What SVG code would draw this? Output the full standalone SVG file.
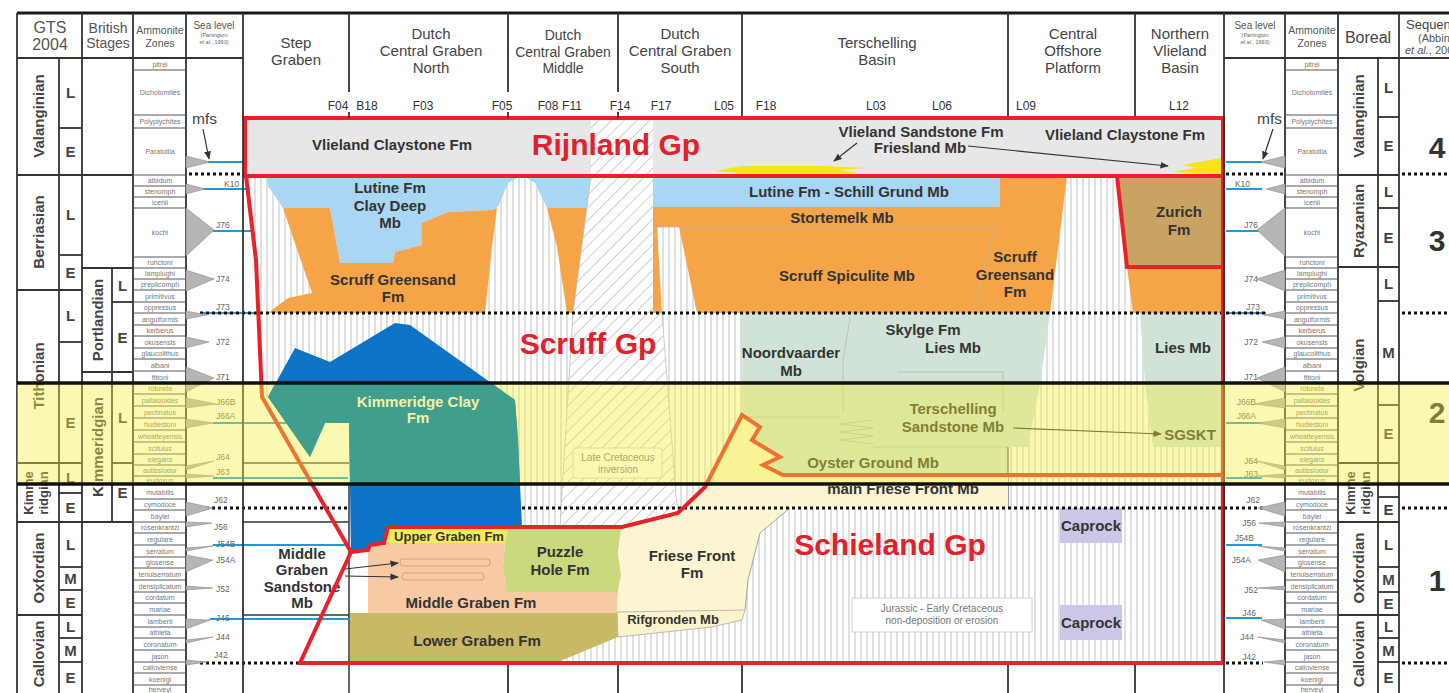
<svg xmlns="http://www.w3.org/2000/svg" width="1449" height="693" viewBox="0 0 1449 693">
<defs>
<style>
text { font-family: "Liberation Sans", Arial, sans-serif; }
.hd { font-size: 15px; fill: #444; text-anchor: middle; }
.hs { font-size: 5.5px; fill: #666; text-anchor: middle; }
.well { font-size: 12px; fill: #333; text-anchor: middle; }
.lb { font-size: 15px; font-weight: bold; fill: #333; text-anchor: middle; }
.lbs { font-size: 13px; font-weight: bold; fill: #333; text-anchor: middle; }
.gp { font-size: 30px; font-weight: bold; fill: #e3202b; text-anchor: middle; }
.st { font-size: 15px; font-weight: bold; fill: #444; text-anchor: middle; }
.st2 { font-size: 13px; font-weight: bold; fill: #444; text-anchor: middle; }
.zn { font-size: 7px; fill: #777; text-anchor: middle; }
.sl { font-size: 8.5px; fill: #666; }
.slr { font-size: 8.5px; fill: #666; text-anchor: end; }
.note { font-size: 10px; fill: #777; text-anchor: middle; }
.seq { font-size: 30px; font-weight: bold; fill: #333; text-anchor: middle; }
.grid { stroke: #333; stroke-width: 1.8; fill: none; }
.gthin { stroke: #555; stroke-width: 1; fill: none; }
.red { stroke: #e8212b; stroke-width: 4; fill: none; stroke-linejoin: miter; }
.dot { stroke: #111; stroke-width: 3; stroke-dasharray: 3 3; fill: none; }
.sea { stroke: #1e9ad6; stroke-width: 2.2; fill: none; }
.tri { fill: #b5b5b5; stroke: #8a8a8a; stroke-width: 0.6; }
.faint { stroke: #b9b9aa; stroke-width: 0.8; fill: none; }
.band { stroke: #111; stroke-width: 3.5; }
</style>
<pattern id="vh" width="6" height="10" patternUnits="userSpaceOnUse">
  <rect width="6" height="10" fill="#fff"/>
  <line x1="3" y1="0" x2="3" y2="10" stroke="#c2c2c2" stroke-width="1"/>
</pattern>
<pattern id="dh" width="9" height="9" patternUnits="userSpaceOnUse" patternTransform="rotate(-45)">
  <rect width="9" height="9" fill="#fff"/>
  <line x1="0" y1="4.5" x2="9" y2="4.5" stroke="#cdcdcd" stroke-width="1"/>
</pattern>
<marker id="ah" viewBox="0 0 10 10" refX="9" refY="5" markerWidth="7" markerHeight="7" orient="auto">
  <path d="M0,1 L10,5 L0,9 z" fill="#333"/>
</marker>
<clipPath id="bandclip"><rect x="0" y="383" width="1449" height="100"/></clipPath>
</defs>

<rect width="1449" height="693" fill="#fff"/>

<!-- ============ main chart background (non-deposition hatch) ============ -->
<g id="hiatus">
  <polygon points="246,176 1223,176 1223,663 300,663 351,552 262,397 256,260" fill="url(#vh)"/>
  <polygon points="262,397 268,397 310,457 325,423 349,423 351,552" fill="#fff"/>
  <polygon points="300,663 351,552 368,550 368,613 350,613 350,663" fill="#fff"/>
</g>

<!-- step graben reference lines -->
<g id="step-graben-lines">
  <line x1="243" y1="463" x2="349" y2="463" stroke="#444" stroke-width="1.5"/>
  <line x1="243" y1="522" x2="349" y2="522" stroke="#333" stroke-width="1.5"/>
  <line x1="243" y1="615" x2="349" y2="615" stroke="#333" stroke-width="1.5"/>
  <line x1="349" y1="484" x2="349" y2="693" stroke="#333" stroke-width="1.5"/>
</g>

<!-- ============ Scruff Group units ============ -->
<g id="scruff">
  <polygon id="lutine-clay-deep" points="266,178 517,178 508,183 498,207 492,210 448,212 422,223 422,245 395,252 393,263 340,263 330,208 283,208 268,186" fill="#a9d6f2"/>
  <polygon points="527,178 591,178 589,208 547,208 535,183" fill="#a9d6f2"/>
  <polygon id="scruff-greensand-w" points="283,208 330,208 340,263 393,263 395,252 422,245 422,223 448,212 492,210 497,208 492,247 485,313 268,313 288,298 312,293" fill="#f5a548"/>
  <polygon points="547,208 589,208 573,313 567,313 557,247" fill="#f5a548"/>
  <polygon id="inversion" points="591,176 653,176 662,313 676,495 678,513 622,527 560,527 562,493 573,313" fill="url(#dh)" stroke="#bdbdbd" stroke-width="0.8"/>
  <polygon id="scruff-spiculite" points="653,176 1067,176 1050,313 653,313" fill="#f5a548"/>
  <polygon id="schill-grund" points="653,178 1000,178 1000,207 653,207" fill="#a9d6f2"/>
  <polygon points="657,227 679,227 697,313 662,313" fill="url(#vh)"/>
  <polygon id="zurich" points="1117,176 1223,176 1223,267 1127,267" fill="#c9a362"/>
  <polygon points="1127,267 1223,267 1223,313 1133,313" fill="#f5a548"/>
  <polygon id="skylge" points="740,313 1050,313 1040,383 1028,447 1008,447 1008,475 783,475 763,465 780,457 752,440 760,427 742,415" fill="#d0e3d6"/>
  <polygon id="lies-north" points="1140,313 1223,313 1223,447 1153,447 1145,383" fill="#d0e3d6"/>
  <polygon id="kimmeridge-clay" points="295,348 330,362 395,323 410,325 487,380 515,400 518,440 522,527 388,527 384,543 370,545 368,550 351,552 349,423 325,423 310,457 268,397" fill="#0d73c6"/>
  <g class="faint">
    <polyline points="653,227 1000,227"/>
    <polyline points="995,227 985,262 973,313"/>
    <polyline points="850,318 843,360 843,413"/>
    <polyline points="897,372 1003,372 1003,413"/>
    <polyline points="742,417 840,417"/>
    <polyline points="873,420 840,424 873,428 840,432 873,436 840,440 873,444"/>
    <polyline points="873,447 1008,447"/>
    <polyline points="1145,383 1223,383"/>
  </g>
  <line x1="1008" y1="447" x2="1008" y2="508" stroke="#555" stroke-width="1.2"/>
</g>

<!-- ============ Schieland Group units ============ -->
<g id="schieland">
  <polygon id="upper-graben" points="388,529 508,529 505,543 388,543" fill="#f6ea5c"/>
  <polygon id="middle-graben" points="368,545 384,543 505,543 503,567 507,592 618,592 617,613 368,613" fill="#f7caa3"/>
  <polygon id="puzzle-hole" points="508,529 621,529 618,553 621,575 618,592 507,592 503,567 505,543" fill="#ccd87e"/>
  <polygon id="friese-front" points="621,529 678,515 705,489 742,417 760,427 752,440 780,457 763,465 783,475 1008,475 1008,508 790,508 760,533 748,580 745,610 617,612 618,592 621,575 618,553" fill="#fcf5d2"/>
  <polyline points="790,508 760,533 748,580 745,610" fill="none" stroke="#999" stroke-width="0.9"/>
  <polygon id="rifgronden" points="617,612 745,610 742,620 712,627 618,637" fill="#fbf3cc" stroke="#aaa" stroke-width="0.8"/>
  <polygon id="lower-graben" points="350,613 617,613 618,637 558,662 350,662" fill="#c8b967"/>
  <rect x="400" y="559" width="90" height="7" rx="3" fill="#f7caa3" stroke="#c79a78" stroke-width="0.8"/>
  <rect x="402" y="573" width="82" height="7" rx="3" fill="#f7caa3" stroke="#c79a78" stroke-width="0.8"/>
  <rect id="caprock-1" x="1060" y="508" width="62" height="35" fill="#cbc7e8"/>
  <rect id="caprock-2" x="1060" y="605" width="62" height="35" fill="#cbc7e8"/>
  <rect x="852" y="598" width="180" height="34" fill="#fff" stroke="#c8c8c8" stroke-width="0.8"/>
  <rect x="573" y="448" width="89" height="30" rx="2" fill="#fff" stroke="#c8c8c8" stroke-width="0.8"/>
</g>

<!-- ============ Rijnland Group ============ -->
<g id="rijnland">
  <rect x="245" y="118" width="978" height="58" fill="#e7e7e7"/>
  <rect x="591" y="120" width="62" height="54" fill="url(#dh)"/>
  <polygon points="715,171 742,166 825,166 866,168 838,170 858,173 742,173" fill="#f7e31a"/>
  <polygon points="1172,172 1196,168 1182,165 1205,161 1222,158 1222,174" fill="#f7e31a"/>
</g>

<!-- ============ dotted surfaces and sea-level lines ============ -->
<g id="surfaces">
  <line class="sea" x1="208" y1="162" x2="245" y2="162"/>
  <line class="sea" x1="203" y1="189" x2="250" y2="189"/>
  <line class="sea" x1="213" y1="231" x2="254" y2="231"/>
  <line class="sea" x1="200" y1="313" x2="262" y2="313"/>
  <line class="sea" x1="213" y1="423" x2="325" y2="423"/>
  <line class="sea" x1="213" y1="478" x2="348" y2="478"/>
  <line class="sea" x1="213" y1="545" x2="345" y2="545"/>
  <line class="sea" x1="210" y1="619" x2="349" y2="619"/>
  <line class="sea" x1="1226" y1="162" x2="1262" y2="162"/>
  <line class="sea" x1="1226" y1="189" x2="1262" y2="189"/>
  <line class="sea" x1="1226" y1="231" x2="1262" y2="231"/>
  <line class="sea" x1="1226" y1="313" x2="1266" y2="313"/>
  <line class="sea" x1="1226" y1="423" x2="1265" y2="423"/>
  <line class="sea" x1="1226" y1="478" x2="1262" y2="478"/>
  <line class="sea" x1="1226" y1="545" x2="1262" y2="545"/>
  <line class="sea" x1="1226" y1="618" x2="1262" y2="618"/>

  <line class="dot" x1="189" y1="174" x2="245" y2="174"/>
  <line class="dot" x1="1226" y1="174" x2="1283" y2="174"/>
  <line class="dot" x1="1402" y1="174" x2="1449" y2="174"/>
  <line class="dot" x1="200" y1="313" x2="1268" y2="313"/>
  <line class="dot" x1="1402" y1="313" x2="1449" y2="313"/>
  <line class="dot" x1="206" y1="508" x2="349" y2="508"/>
  <line class="dot" x1="522" y1="508" x2="1263" y2="508"/>
  <line class="dot" x1="1402" y1="508" x2="1449" y2="508"/>
  <line class="dot" x1="200" y1="663" x2="300" y2="663"/>
  <line class="dot" x1="1226" y1="663" x2="1263" y2="663"/>
  <line class="dot" x1="1402" y1="663" x2="1449" y2="663"/>
</g>

<!-- ============ unit labels ============ -->
<g id="labels">
  <text class="lb" x="392" y="150">Vlieland Claystone Fm</text>
  <text class="gp" x="616" y="155">Rijnland Gp</text>
  <text class="lb" x="921" y="137">Vlieland Sandstone Fm</text>
  <text class="lb" x="920" y="153">Friesland Mb</text>
  <text class="lb" x="1125" y="140">Vlieland Claystone Fm</text>

  <text class="lb" x="390" y="193">Lutine Fm</text>
  <text class="lb" x="390" y="211">Clay Deep</text>
  <text class="lb" x="390" y="228">Mb</text>
  <text class="lb" x="393" y="285">Scruff Greensand</text>
  <text class="lb" x="393" y="302">Fm</text>
  <text class="lb" x="849" y="197">Lutine Fm - Schill Grund Mb</text>
  <text class="lb" x="842" y="223">Stortemelk Mb</text>
  <text class="lb" x="847" y="281">Scruff Spiculite Mb</text>
  <text class="lb" x="1015" y="262">Scruff</text>
  <text class="lb" x="1015" y="280">Greensand</text>
  <text class="lb" x="1015" y="297">Fm</text>
  <text class="lb" x="1179" y="217">Zurich</text>
  <text class="lb" x="1179" y="235">Fm</text>
  <text class="gp" x="588" y="354">Scruff Gp</text>
  <text class="lb" x="923" y="335">Skylge Fm</text>
  <text class="lb" x="953" y="353">Lies Mb</text>
  <text class="lb" x="791" y="358">Noordvaarder</text>
  <text class="lb" x="791" y="376">Mb</text>
  <text class="lb" x="1183" y="353">Lies Mb</text>
  <text class="lb" x="953" y="414">Terschelling</text>
  <text class="lb" x="953" y="432">Sandstone Mb</text>
  <text class="lb" x="1190" y="440">SGSKT</text>
  <text class="lb" x="873" y="468">Oyster Ground Mb</text>
  <text class="note" x="618" y="461">Late Cretaceous</text>
  <text class="note" x="618" y="473">inversion</text>
  <text class="lb" x="903" y="494">main Friese Front Mb</text>

  <text class="gp" x="890" y="555">Schieland Gp</text>
  <text class="lbs" x="449" y="541">Upper Graben Fm</text>
  <text class="lb" x="560" y="557">Puzzle</text>
  <text class="lb" x="560" y="575">Hole Fm</text>
  <text class="lb" x="692" y="561">Friese Front</text>
  <text class="lb" x="692" y="578">Fm</text>
  <text class="lb" x="471" y="608">Middle Graben Fm</text>
  <text class="lbs" x="673" y="624">Rifgronden Mb</text>
  <text class="lb" x="477" y="646">Lower Graben Fm</text>
  <text class="lb" x="302" y="559">Middle</text>
  <text class="lb" x="302" y="575">Graben</text>
  <text class="lb" x="302" y="592">Sandstone</text>
  <text class="lb" x="302" y="608">Mb</text>
  <text class="lb" x="1091" y="531">Caprock</text>
  <text class="lb" x="1091" y="628">Caprock</text>
  <text class="note" x="942" y="612">Jurassic - Early Cretaceous</text>
  <text class="note" x="942" y="624">non-deposition or erosion</text>
</g>

<!-- ============ group boundaries ============ -->
<g id="group-boundaries">
  <rect class="red" x="245" y="118" width="978" height="58"/>
  <polyline class="red" points="246,176 256,260 262,397 351,552"/>
  <polyline class="red" points="1117,176 1127,267 1223,267"/>
  <polyline class="red" points="1223,176 1223,663"/>
  <polyline class="red" points="351,552 368,550 370,545 384,543 388,527 622,527 678,513 705,487 742,415 760,427 752,440 780,457 763,465 783,475 1223,475"/>
  <polyline class="red" points="351,552 300,663 1223,663"/>
</g>

<!-- ============ connectors ============ -->
<g id="connectors" stroke="#333" stroke-width="1.2" fill="none">
  <line x1="857" y1="143" x2="834" y2="161" marker-end="url(#ah)"/>
  <line x1="968" y1="146" x2="1168" y2="166" marker-end="url(#ah)"/>
  <line x1="1013" y1="428" x2="1161" y2="434" marker-end="url(#ah)"/>
  <line x1="345" y1="569" x2="398" y2="563" marker-end="url(#ah)"/>
  <line x1="345" y1="576" x2="398" y2="577" marker-end="url(#ah)"/>
  <line x1="203" y1="129" x2="209" y2="159" marker-end="url(#ah)"/>
  <line x1="1273" y1="129" x2="1263" y2="159" marker-end="url(#ah)"/>
</g>

<!-- ============ frame and header ============ -->
<g id="frame">
  <line x1="17" y1="13" x2="1449" y2="13" stroke="#1a1a1a" stroke-width="3"/>
  <line class="grid" x1="17" y1="58" x2="243" y2="58"/>
  <line class="grid" x1="1224" y1="58" x2="1449" y2="58"/>
  <g class="grid">
    <line x1="17" y1="13" x2="17" y2="693"/>
    <line x1="82" y1="13" x2="82" y2="693"/>
    <line x1="133" y1="13" x2="133" y2="693"/>
    <line x1="186" y1="13" x2="186" y2="693"/>
    <line x1="243" y1="13" x2="243" y2="693"/>
    <line x1="1224" y1="13" x2="1224" y2="693"/>
    <line x1="1285" y1="13" x2="1285" y2="693"/>
    <line x1="1338" y1="13" x2="1338" y2="693"/>
    <line x1="1399" y1="13" x2="1399" y2="693"/>
    <line x1="349" y1="13" x2="349" y2="92"/>
    <line x1="508" y1="13" x2="508" y2="92"/>
    <line x1="618" y1="13" x2="618" y2="92"/>
    <line x1="742" y1="13" x2="742" y2="116"/>
    <line x1="1008" y1="13" x2="1008" y2="116"/>
    <line x1="1135" y1="13" x2="1135" y2="116"/>
    <line x1="349" y1="112" x2="349" y2="118"/>
    <line x1="508" y1="112" x2="508" y2="118"/>
    <line x1="618" y1="112" x2="618" y2="118"/>
    <line x1="508" y1="665" x2="508" y2="693"/>
    <line x1="618" y1="665" x2="618" y2="693"/>
    <line x1="742" y1="665" x2="742" y2="693"/>
    <line x1="1008" y1="665" x2="1008" y2="693"/>
    <line x1="1135" y1="665" x2="1135" y2="693"/>
  </g>

  <g id="headers">
    <text x="50" y="33" style="font-size:16px;fill:#555;text-anchor:middle">GTS</text>
    <text x="50" y="50" style="font-size:16px;fill:#555;text-anchor:middle">2004</text>
    <text x="108" y="33" style="font-size:14px;fill:#555;text-anchor:middle">British</text>
    <text x="108" y="48" style="font-size:14px;fill:#555;text-anchor:middle">Stages</text>
    <text x="160" y="34" style="font-size:10.5px;fill:#555;text-anchor:middle">Ammonite</text>
    <text x="160" y="47" style="font-size:10.5px;fill:#555;text-anchor:middle">Zones</text>
    <text x="214" y="29" style="font-size:10px;fill:#555;text-anchor:middle">Sea level</text>
    <text class="hs" x="214" y="37">(Partington</text>
    <text class="hs" x="214" y="44"><tspan font-style="italic">et al.</tspan>, 1993)</text>

    <text class="hd" x="296" y="48">Step</text>
    <text class="hd" x="296" y="65">Graben</text>
    <text class="hd" x="431" y="39">Dutch</text>
    <text class="hd" x="431" y="56">Central Graben</text>
    <text class="hd" x="431" y="73">North</text>
    <text class="hd" x="563" y="40" style="font-size:14px">Dutch</text>
    <text class="hd" x="563" y="57" style="font-size:14px">Central Graben</text>
    <text class="hd" x="563" y="73" style="font-size:14px">Middle</text>
    <text class="hd" x="680" y="39">Dutch</text>
    <text class="hd" x="680" y="56">Central Graben</text>
    <text class="hd" x="680" y="73">South</text>
    <text class="hd" x="877" y="48">Terschelling</text>
    <text class="hd" x="877" y="65">Basin</text>
    <text class="hd" x="1073" y="39">Central</text>
    <text class="hd" x="1073" y="56">Offshore</text>
    <text class="hd" x="1073" y="73">Platform</text>
    <text class="hd" x="1180" y="39">Northern</text>
    <text class="hd" x="1180" y="56">Vlieland</text>
    <text class="hd" x="1180" y="73">Basin</text>

    <text x="1255" y="29" style="font-size:10px;fill:#555;text-anchor:middle">Sea level</text>
    <text class="hs" x="1255" y="37">(Partington</text>
    <text class="hs" x="1255" y="44"><tspan font-style="italic">et al.</tspan>, 1993)</text>
    <text x="1312" y="34" style="font-size:10.5px;fill:#555;text-anchor:middle">Ammonite</text>
    <text x="1312" y="47" style="font-size:10.5px;fill:#555;text-anchor:middle">Zones</text>
    <text x="1368" y="43" style="font-size:16px;fill:#444;text-anchor:middle">Boreal</text>
    <text x="1406" y="29" style="font-size:13px;fill:#444">Sequences</text>
    <text x="1418" y="42" style="font-size:11px;fill:#555">(Abbink</text>
    <text x="1405" y="54" style="font-size:11px;fill:#555"><tspan font-style="italic">et al.</tspan>, 2006)</text>
  </g>

  <g id="wells">
    <text class="well" x="338" y="110">F04</text>
    <text class="well" x="367" y="110">B18</text>
    <text class="well" x="423" y="110">F03</text>
    <text class="well" x="502" y="110">F05</text>
    <text class="well" x="548" y="110">F08</text>
    <text class="well" x="572" y="110">F11</text>
    <text class="well" x="620" y="110">F14</text>
    <text class="well" x="661" y="110">F17</text>
    <text class="well" x="724" y="110">L05</text>
    <text class="well" x="766" y="110">F18</text>
    <text class="well" x="876" y="110">L03</text>
    <text class="well" x="942" y="110">L06</text>
    <text class="well" x="1026" y="110">L09</text>
    <text class="well" x="1179" y="110">L12</text>
  </g>
</g>

<!-- ============ left time columns ============ -->
<g id="left-columns">
  <g class="grid">
    <line x1="59" y1="58" x2="59" y2="693"/>
    <line x1="17" y1="175" x2="82" y2="175"/>
    <line x1="17" y1="290" x2="82" y2="290"/>
    <line x1="17" y1="463" x2="82" y2="463"/>
    <line x1="17" y1="522" x2="82" y2="522"/>
    <line x1="17" y1="615" x2="82" y2="615"/>
    <line x1="59" y1="128" x2="82" y2="128"/>
    <line x1="59" y1="255" x2="82" y2="255"/>
    <line x1="59" y1="342" x2="82" y2="342"/>
    <line x1="59" y1="493" x2="82" y2="493"/>
    <line x1="59" y1="567" x2="82" y2="567"/>
    <line x1="59" y1="590" x2="82" y2="590"/>
    <line x1="59" y1="638" x2="82" y2="638"/>
    <line x1="59" y1="662" x2="82" y2="662"/>
    <line x1="82" y1="175" x2="133" y2="175"/>
    <line x1="82" y1="268" x2="133" y2="268"/>
    <line x1="82" y1="372" x2="133" y2="372"/>
    <line x1="82" y1="522" x2="133" y2="522"/>
    <line x1="112" y1="268" x2="112" y2="522"/>
    <line x1="112" y1="302" x2="133" y2="302"/>
    <line x1="112" y1="463" x2="133" y2="463"/>
  </g>
  <text class="st" transform="translate(43.5 116) rotate(-90)">Valanginian</text>
  <text class="st" transform="translate(43.5 232) rotate(-90)">Berriasian</text>
  <text class="st" transform="translate(43.5 376) rotate(-90)">Tithonian</text>
  <text class="st2" transform="translate(33 493) rotate(-90)">Kimme</text>
  <text class="st2" transform="translate(48 493) rotate(-90)">ridgian</text>
  <text class="st" transform="translate(43.5 568) rotate(-90)">Oxfordian</text>
  <text class="st" transform="translate(43.5 654) rotate(-90)">Callovian</text>
  <g class="st">
    <text x="70.5" y="98">L</text>
    <text x="70.5" y="157">E</text>
    <text x="70.5" y="220">L</text>
    <text x="70.5" y="278">E</text>
    <text x="70.5" y="321">L</text>
    <text x="70.5" y="428">E</text>
    <text x="70.5" y="483">L</text>
    <text x="70.5" y="513">E</text>
    <text x="70.5" y="550">L</text>
    <text x="70.5" y="584">M</text>
    <text x="70.5" y="608">E</text>
    <text x="70.5" y="632">L</text>
    <text x="70.5" y="656">M</text>
    <text x="70.5" y="683">E</text>
  </g>
  <text class="st" transform="translate(102.5 320) rotate(-90)">Portlandian</text>
  <text class="st" transform="translate(102.5 447) rotate(-90)">Kimmeridgian</text>
  <g class="st">
    <text x="122.5" y="291">L</text>
    <text x="122.5" y="343">E</text>
    <text x="122.5" y="423">L</text>
    <text x="122.5" y="498">E</text>
  </g>
</g>

<!-- ============ right time columns ============ -->
<g id="right-columns">
  <g class="grid">
    <line x1="1378" y1="58" x2="1378" y2="693"/>
    <line x1="1338" y1="175" x2="1399" y2="175"/>
    <line x1="1338" y1="267" x2="1399" y2="267"/>
    <line x1="1338" y1="463" x2="1399" y2="463"/>
    <line x1="1338" y1="522" x2="1399" y2="522"/>
    <line x1="1338" y1="615" x2="1399" y2="615"/>
    <line x1="1378" y1="117" x2="1399" y2="117"/>
    <line x1="1378" y1="208" x2="1399" y2="208"/>
    <line x1="1378" y1="301" x2="1399" y2="301"/>
    <line x1="1378" y1="405" x2="1399" y2="405"/>
    <line x1="1378" y1="497" x2="1399" y2="497"/>
    <line x1="1378" y1="567" x2="1399" y2="567"/>
    <line x1="1378" y1="592" x2="1399" y2="592"/>
    <line x1="1378" y1="638" x2="1399" y2="638"/>
    <line x1="1378" y1="662" x2="1399" y2="662"/>
  </g>
  <text class="st" transform="translate(1363.5 116) rotate(-90)">Valanginian</text>
  <text class="st" transform="translate(1363.5 221) rotate(-90)">Ryazanian</text>
  <text class="st" transform="translate(1363.5 365) rotate(-90)">Volgian</text>
  <text class="st2" transform="translate(1355 493) rotate(-90)">Kimme</text>
  <text class="st2" transform="translate(1370 493) rotate(-90)">ridgian</text>
  <text class="st" transform="translate(1363.5 568) rotate(-90)">Oxfordian</text>
  <text class="st" transform="translate(1363.5 654) rotate(-90)">Callovian</text>
  <g class="st">
    <text x="1388.5" y="93">L</text>
    <text x="1388.5" y="151">E</text>
    <text x="1388.5" y="197">L</text>
    <text x="1388.5" y="243">E</text>
    <text x="1388.5" y="289">L</text>
    <text x="1388.5" y="358">M</text>
    <text x="1388.5" y="439">E</text>
    <text x="1388.5" y="515">E</text>
    <text x="1388.5" y="550">L</text>
    <text x="1388.5" y="585">M</text>
    <text x="1388.5" y="609">E</text>
    <text x="1388.5" y="632">L</text>
    <text x="1388.5" y="656">M</text>
    <text x="1388.5" y="683">E</text>
  </g>
  <g class="seq">
    <text x="1437" y="158">4</text>
    <text x="1437" y="251">3</text>
    <text x="1437" y="423">2</text>
    <text x="1437" y="591">1</text>
  </g>
</g>

<!-- ============ ammonite zones (both sides) ============ -->
<g id="ammonite-zones">
  <g class="gthin">
    <path d="M133 70H186M133 115H186M133 128H186M133 175H186M133 186H186M133 197H186M133 208H186M133 257H186M133 268H186M133 279H186M133 290H186M133 302H186M133 313H186M133 325H186M133 336H186M133 348H186M133 359H186M133 371H186M133 394H186M133 406H186M133 418H186M133 430H186M133 442H186M133 454H186M133 465H186M133 476H186M133 499H186M133 510H186M133 522H186M133 533H186M133 545H186M133 557H186M133 568H186M133 580H186M133 592H186M133 603H186M133 615H186M133 627H186M133 638H186M133 650H186M133 662H186M133 673H186M133 685H186"/>
    <path d="M1285 70H1338M1285 115H1338M1285 128H1338M1285 175H1338M1285 186H1338M1285 197H1338M1285 208H1338M1285 257H1338M1285 268H1338M1285 279H1338M1285 290H1338M1285 302H1338M1285 313H1338M1285 325H1338M1285 336H1338M1285 348H1338M1285 359H1338M1285 371H1338M1285 394H1338M1285 406H1338M1285 418H1338M1285 430H1338M1285 442H1338M1285 454H1338M1285 465H1338M1285 476H1338M1285 499H1338M1285 510H1338M1285 522H1338M1285 533H1338M1285 545H1338M1285 557H1338M1285 568H1338M1285 580H1338M1285 592H1338M1285 603H1338M1285 615H1338M1285 627H1338M1285 638H1338M1285 650H1338M1285 662H1338M1285 673H1338M1285 685H1338"/>
  </g>
  <g id="zones-left" class="zn">
    <text x="160" y="66.5">pitrei</text>
    <text x="160" y="95">Dichotomites</text>
    <text x="160" y="124">Polyptychites</text>
    <text x="160" y="154">Paratollia</text>
    <text x="160" y="183">albidum</text>
    <text x="160" y="194">stenomph</text>
    <text x="160" y="205">icenii</text>
    <text x="160" y="235">kochi</text>
    <text x="160" y="265">runctoni</text>
    <text x="160" y="276">lamplughi</text>
    <text x="160" y="287">preplicomph</text>
    <text x="160" y="298.5">primitivus</text>
    <text x="160" y="310">oppressus</text>
    <text x="160" y="321.5">anguiformis</text>
    <text x="160" y="333">kerberus</text>
    <text x="160" y="344.5">okusensis</text>
    <text x="160" y="356">glaucolithus</text>
    <text x="160" y="367.5">albani</text>
    <text x="160" y="379.5">fittoni</text>
    <text x="160" y="391">rotunda</text>
    <text x="160" y="402.5">pallasioides</text>
    <text x="160" y="414.5">pectinatus</text>
    <text x="160" y="426.5">hudlestoni</text>
    <text x="160" y="438.5">wheatleyensis</text>
    <text x="160" y="450.5">scitulus</text>
    <text x="160" y="462">elegans</text>
    <text x="160" y="473">autissiodor</text>
    <text x="160" y="483">eudoxus</text>
    <text x="160" y="495">mutabilis</text>
    <text x="160" y="507">cymodoce</text>
    <text x="160" y="518.5">baylei</text>
    <text x="160" y="530">rosenkrantzi</text>
    <text x="160" y="541.5">regulare</text>
    <text x="160" y="553.5">serratum</text>
    <text x="160" y="565">glosense</text>
    <text x="160" y="576.5">tenuiserratum</text>
    <text x="160" y="588.5">densiplicatum</text>
    <text x="160" y="600">cordatum</text>
    <text x="160" y="611.5">mariae</text>
    <text x="160" y="623.5">lamberti</text>
    <text x="160" y="635">athleta</text>
    <text x="160" y="646.5">coronatum</text>
    <text x="160" y="658.5">jason</text>
    <text x="160" y="670">calloviense</text>
    <text x="160" y="681.5">koenigi</text>
    <text x="160" y="692">herveyi</text>
  </g>
  <g id="zones-right" class="zn">
    <text x="1312" y="66.5">pitrei</text>
    <text x="1312" y="95">Dichotomites</text>
    <text x="1312" y="124">Polyptychites</text>
    <text x="1312" y="154">Paratollia</text>
    <text x="1312" y="183">albidum</text>
    <text x="1312" y="194">stenomph</text>
    <text x="1312" y="205">icenii</text>
    <text x="1312" y="235">kochi</text>
    <text x="1312" y="265">runctoni</text>
    <text x="1312" y="276">lamplughi</text>
    <text x="1312" y="287">preplicomph</text>
    <text x="1312" y="298.5">primitivus</text>
    <text x="1312" y="310">oppressus</text>
    <text x="1312" y="321.5">anguiformis</text>
    <text x="1312" y="333">kerberus</text>
    <text x="1312" y="344.5">okusensis</text>
    <text x="1312" y="356">glaucolithus</text>
    <text x="1312" y="367.5">albani</text>
    <text x="1312" y="379.5">fittoni</text>
    <text x="1312" y="391">rotunda</text>
    <text x="1312" y="402.5">pallasioides</text>
    <text x="1312" y="414.5">pectinatus</text>
    <text x="1312" y="426.5">hudlestoni</text>
    <text x="1312" y="438.5">wheatleyensis</text>
    <text x="1312" y="450.5">scitulus</text>
    <text x="1312" y="462">elegans</text>
    <text x="1312" y="473">autissiodor</text>
    <text x="1312" y="483">eudoxus</text>
    <text x="1312" y="495">mutabilis</text>
    <text x="1312" y="507">cymodoce</text>
    <text x="1312" y="518.5">baylei</text>
    <text x="1312" y="530">rosenkrantzi</text>
    <text x="1312" y="541.5">regulare</text>
    <text x="1312" y="553.5">serratum</text>
    <text x="1312" y="565">glosense</text>
    <text x="1312" y="576.5">tenuiserratum</text>
    <text x="1312" y="588.5">densiplicatum</text>
    <text x="1312" y="600">cordatum</text>
    <text x="1312" y="611.5">mariae</text>
    <text x="1312" y="623.5">lamberti</text>
    <text x="1312" y="635">athleta</text>
    <text x="1312" y="646.5">coronatum</text>
    <text x="1312" y="658.5">jason</text>
    <text x="1312" y="670">calloviense</text>
    <text x="1312" y="681.5">koenigi</text>
    <text x="1312" y="692">herveyi</text>
  </g>
</g>

<!-- ============ sea-level cycles ============ -->
<g id="sea-level-left">
  <g class="tri">
    <polygon points="186,156 186,168 210,162"/>
    <polygon points="186,184 186,194 205,189"/>
    <polygon points="186,208 186,256 214,230"/>
    <polygon points="186,270 186,291 214,279"/>
    <polygon points="186,311 186,319 207,315"/>
    <polygon points="186,337 186,348 209,342"/>
    <polygon points="186,367 186,392 214,378"/>
    <polygon points="186,398 186,408 216,404"/>
    <polygon points="186,419 186,428 213,423"/>
    <polygon points="186,466 186,470 214,461"/>
    <polygon points="186,474 186,478 214,476"/>
    <polygon points="186,502 186,516 213,508"/>
    <polygon points="186,522 186,527 212,523"/>
    <polygon points="186,548 186,551 213,546"/>
    <polygon points="186,555 186,572 213,560"/>
    <polygon points="186,586 186,590 213,588"/>
    <polygon points="186,619 186,629 210,620"/>
    <polygon points="186,640 186,643 213,637"/>
    <polygon points="186,660 186,665 207,662"/>
  </g>
  <text x="192" y="124" style="font-size:15.5px;fill:#444">mfs</text>
  <g class="sl">
    <text x="224" y="187">K10</text>
    <text x="216" y="228">J76</text>
    <text x="216" y="282">J74</text>
    <text x="216" y="310">J73</text>
    <text x="216" y="345">J72</text>
    <text x="216" y="380">J71</text>
    <text x="216" y="405">J66B</text>
    <text x="216" y="419">J66A</text>
    <text x="216" y="460">J64</text>
    <text x="216" y="475">J63</text>
    <text x="214" y="503">J62</text>
    <text x="214" y="530">J56</text>
    <text x="216" y="547">J54B</text>
    <text x="216" y="563">J54A</text>
    <text x="216" y="592">J52</text>
    <text x="216" y="621">J46</text>
    <text x="216" y="640">J44</text>
    <text x="214" y="658">J42</text>
  </g>
</g>
<g id="sea-level-right">
  <g class="tri">
    <polygon points="1285,156 1285,168 1261,162"/>
    <polygon points="1285,184 1285,194 1266,189"/>
    <polygon points="1285,208 1285,256 1257,230"/>
    <polygon points="1285,270 1285,291 1257,279"/>
    <polygon points="1285,311 1285,319 1264,315"/>
    <polygon points="1285,337 1285,348 1262,342"/>
    <polygon points="1285,367 1285,392 1257,378"/>
    <polygon points="1285,398 1285,408 1255,404"/>
    <polygon points="1285,419 1285,428 1258,423"/>
    <polygon points="1285,466 1285,470 1257,461"/>
    <polygon points="1285,474 1285,478 1257,476"/>
    <polygon points="1285,502 1285,516 1258,508"/>
    <polygon points="1285,522 1285,527 1259,523"/>
    <polygon points="1285,548 1285,551 1258,546"/>
    <polygon points="1285,555 1285,572 1258,560"/>
    <polygon points="1285,586 1285,590 1258,588"/>
    <polygon points="1285,619 1285,629 1261,620"/>
    <polygon points="1285,640 1285,643 1258,637"/>
    <polygon points="1285,660 1285,665 1264,662"/>
  </g>
  <text x="1257" y="124" style="font-size:15.5px;fill:#444">mfs</text>
  <g class="slr">
    <text x="1250" y="187">K10</text>
    <text x="1258" y="228">J76</text>
    <text x="1258" y="282">J74</text>
    <text x="1260" y="310">J73</text>
    <text x="1258" y="345">J72</text>
    <text x="1258" y="380">J71</text>
    <text x="1256" y="405">J66B</text>
    <text x="1256" y="419">J66A</text>
    <text x="1258" y="464">J64</text>
    <text x="1258" y="477">J63</text>
    <text x="1260" y="503">J62</text>
    <text x="1256" y="526">J56</text>
    <text x="1254" y="541">J54B</text>
    <text x="1251" y="563">J54A</text>
    <text x="1258" y="593">J52</text>
    <text x="1256" y="616">J46</text>
    <text x="1254" y="640">J44</text>
    <text x="1256" y="660">J42</text>
  </g>
</g>

<!-- ============ Kimmeridgian-Tithonian highlight band ============ -->
<g id="highlight-band">
  <rect x="17" y="383" width="1432" height="100" fill="#f5f03c" fill-opacity="0.4"/>
  <polygon clip-path="url(#bandclip)" points="295,348 330,362 395,323 410,325 487,380 515,400 518,440 522,527 388,527 384,543 370,545 368,550 351,552 349,423 325,423 310,457 268,397" fill="#3f9f8c"/>
  <text class="lb" x="418" y="407" style="fill:#f3f1a6">Kimmeridge Clay</text>
  <text class="lb" x="418" y="423" style="fill:#f3f1a6">Fm</text>
  <line class="band" x1="17" y1="383" x2="1449" y2="383"/>
  <line class="band" x1="17" y1="484" x2="1449" y2="484"/>
</g>
</svg>
